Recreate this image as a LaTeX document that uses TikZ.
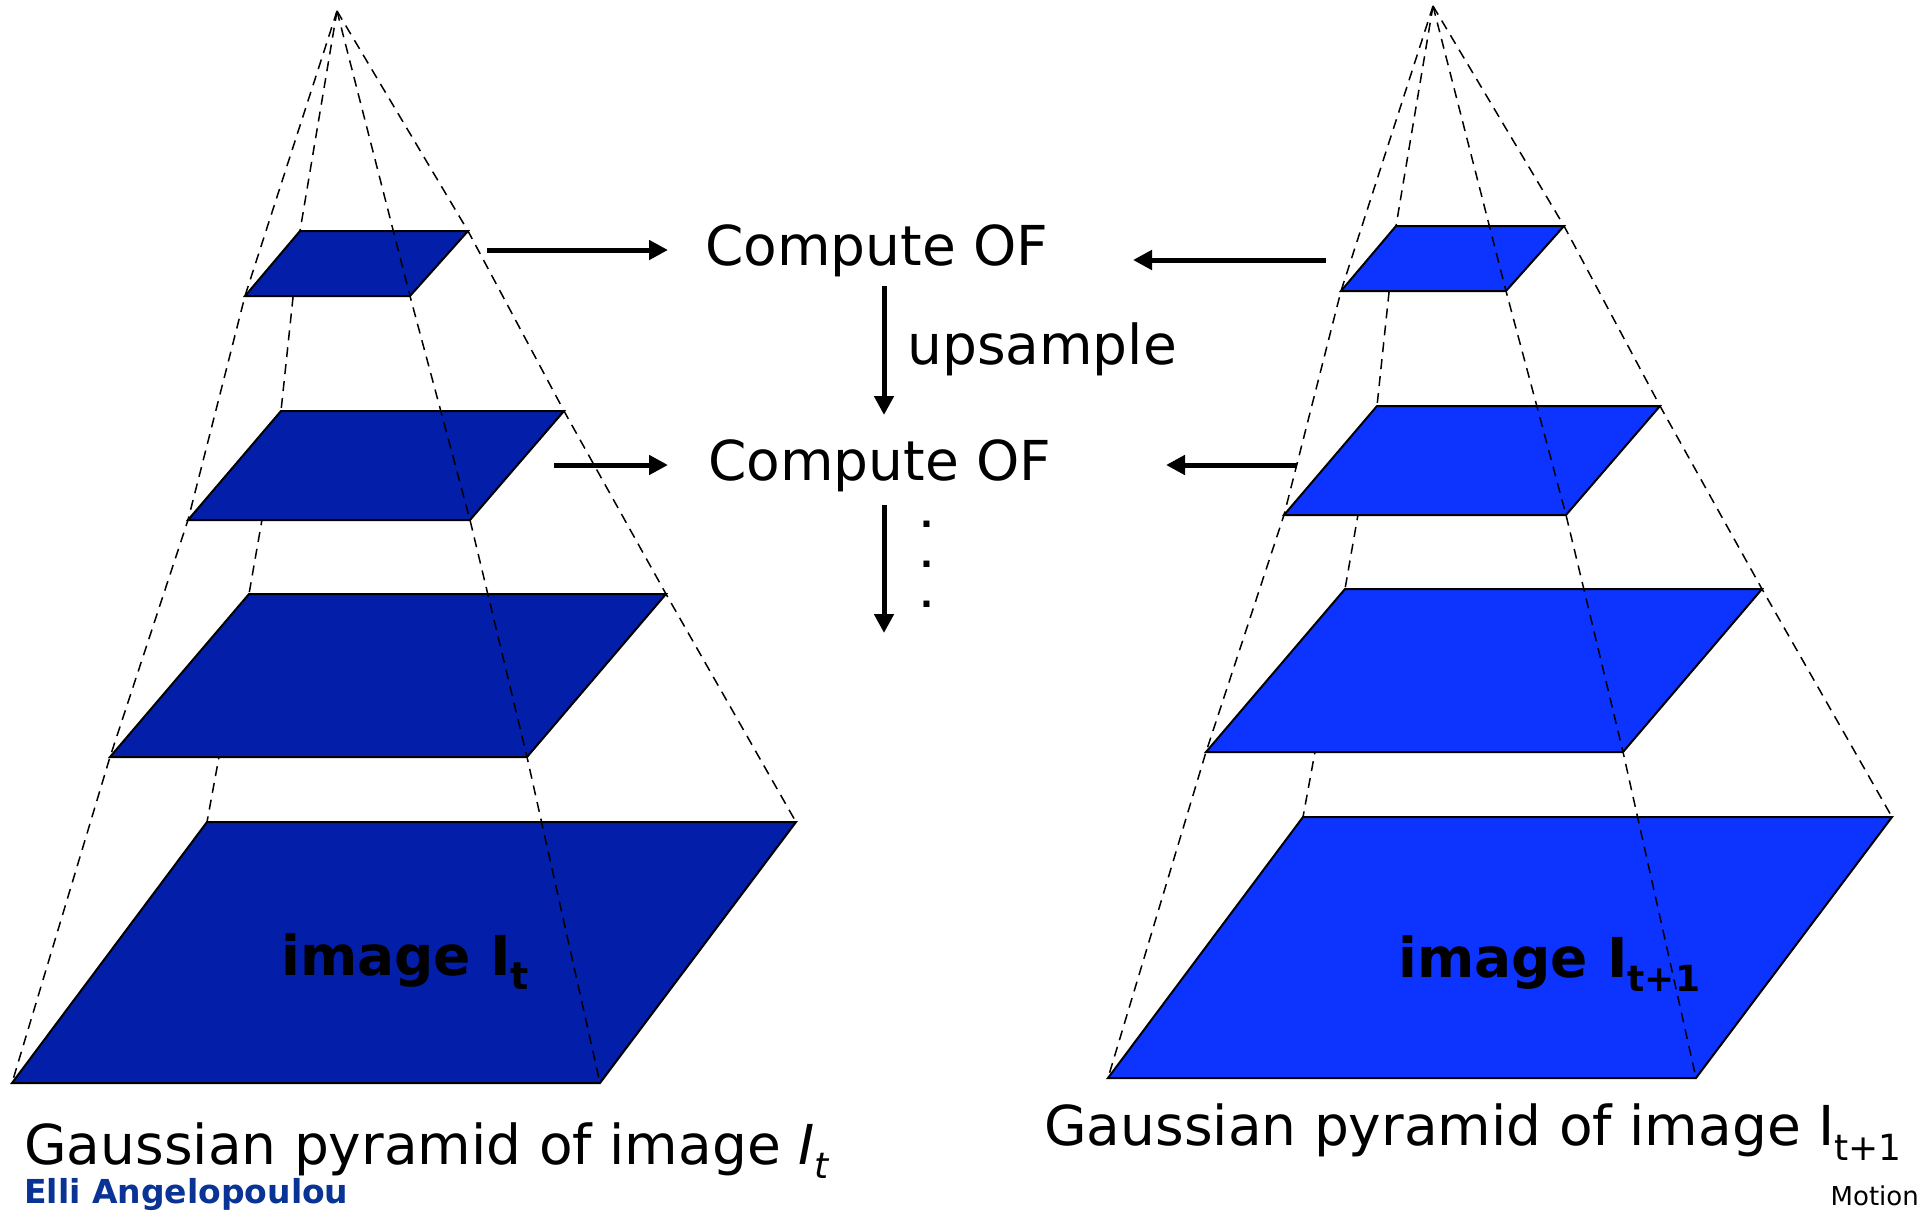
\documentclass[tikz,border=0pt]{standalone}
\usepackage{fontspec}
\setmainfont{DejaVu Sans}
\usetikzlibrary{arrows.meta}
\definecolor{darkplane}{RGB}{3,30,168}
\definecolor{brightplane}{RGB}{13,51,255}
\definecolor{authorblue}{RGB}{10,51,150}
\newcommand{\fsz}[1]{\fontsize{#1}{#1}\selectfont}
\newcommand{\drawpyramid}[3]{%
\begin{scope}[shift={(#1,#2)}]
 \draw[guide] (337,11) -- (300,231) -- (281,411) -- (249,594) -- (207,822);
 \draw[guide] (337,11) -- (245,296) -- (188,520) -- (110,757) -- (12,1083);
 \draw[guide] (337,11) -- (468,231) -- (564,411) -- (666,594) -- (796,822);
 \draw[plane,fill=#3] (300,231) -- (468,231) -- (410,296) -- (245,296) -- cycle;
 \draw[plane,fill=#3] (281,411) -- (564,411) -- (470,520) -- (188,520) -- cycle;
 \draw[plane,fill=#3] (249,594) -- (666,594) -- (527,757) -- (110,757) -- cycle;
 \draw[plane,fill=#3] (207,822) -- (796,822) -- (600,1083) -- (12,1083) -- cycle;
 \draw[guide] (337,11) -- (410,296) -- (470,520) -- (527,757) -- (600,1083);
\end{scope}}
\begin{document}
\begin{tikzpicture}[x=1pt,y=-1pt,
  plane/.style={draw=black,line width=2pt,line join=miter},
  guide/.style={draw=black,dash pattern=on 10pt off 7pt,line width=1.5pt},
  flowarrow/.style={line width=5pt,-{Triangle[length=19pt,width=19pt]}},
  lbl/.style={inner sep=0pt,anchor=base west,font=\fsz{55}},
  boldlbl/.style={inner sep=0pt,anchor=base west,font=\fsz{55}\bfseries}]
\useasboundingbox[fill=white] (0,0) rectangle (1930,1210);

\drawpyramid{0}{0}{darkplane}
\drawpyramid{1096}{-5}{brightplane}

% texts
\node[lbl] (of1) at (705,265) {Compute OF};
\node[lbl] (of2) at (708,480) {Compute OF};
\node[lbl] (ups) at (907,364) {upsample};
\node[inner sep=0pt,anchor=base,font=\fontsize{34}{40}\selectfont\bfseries,align=center] (dots) at (927,607) {.\\.\\.};

\node[boldlbl] (imgL) at (281,975) {image I\raisebox{-14pt}{\fsz{38}t}};
\node[boldlbl] (imgR) at (1398,977) {image I\raisebox{-14pt}{\fsz{36}t+1}};

\node[lbl] (capL) at (24,1164) {Gaussian pyramid of image {\itshape I\raisebox{-14pt}{\fsz{36}t}}};
\node[lbl] (capR) at (1044,1145) {Gaussian pyramid of image I\raisebox{-15pt}{\fsz{36}t+1}};

\node[inner sep=0pt,anchor=base west,font=\fsz{33}\bfseries,text=authorblue] (author) at (24,1203) {Elli Angelopoulou};
\node[inner sep=0pt,anchor=base east,font=\fsz{26}] (motion) at (1919,1205) {Motion};

% arrow endpoints
\coordinate (a1s) at (487,250); \coordinate (a1e) at (668,250);
\coordinate (a2s) at (554,465); \coordinate (a2e) at (668,465);
\coordinate (a3s) at (1326,260); \coordinate (a3e) at (1133,260);
\coordinate (a4s) at (1297,465); \coordinate (a4e) at (1166,465);
\coordinate (d1s) at (884,286); \coordinate (d1e) at (884,415);
\coordinate (d2s) at (884,505); \coordinate (d2e) at (884,633);

\draw[flowarrow] (a1s) -- (a1e);
\draw[flowarrow] (a2s) -- (a2e);
\draw[flowarrow] (a3s) -- (a3e);
\draw[flowarrow] (a4s) -- (a4e);
\draw[flowarrow] (d1s) -- (d1e);
\draw[flowarrow] (d2s) -- (d2e);
\end{tikzpicture}
\end{document}
